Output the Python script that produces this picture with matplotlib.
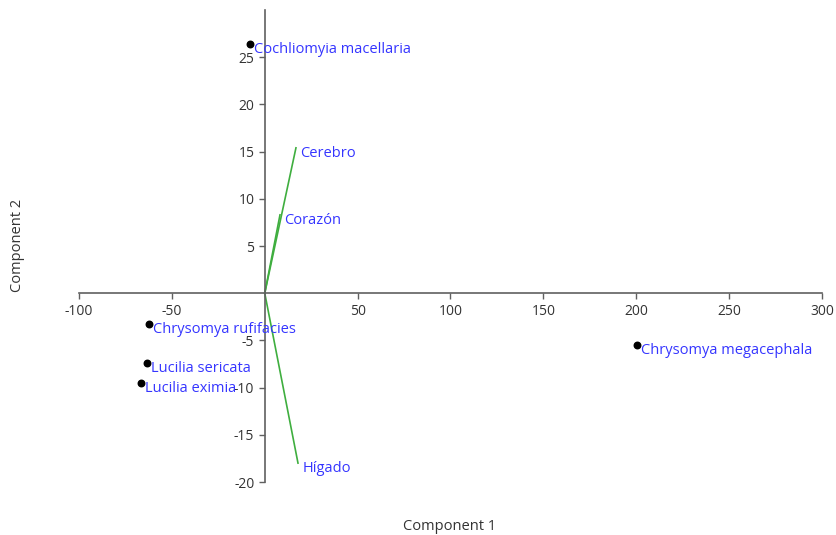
import matplotlib
matplotlib.use("Agg")
import matplotlib.pyplot as plt

species = ["Cochliomyia macellaria", "Chrysomya rufifacies", "Lucilia sericata",
           "Lucilia eximia", "Chrysomya megacephala"]
sp_x = [-7.9, -62.3, -63.4, -66.6, 200.4]
sp_y = [26.4, -3.3, -7.4, -9.5, -5.5]

variables = ["Cerebro", "Corazón", "Hígado"]
var_x = [16.8, 8.2, 17.9]
var_y = [15.4, 8.3, -18.0]

xticks = [-100, -50, 50, 100, 150, 200, 250, 300]
yticks = [-20, -15, -10, -5, 5, 10, 15, 20, 25]

plt.rcParams['font.family'] = ['Open Sans', 'DejaVu Sans']
plt.rcParams['axes.unicode_minus'] = False
fig = plt.figure(figsize=(8.37, 5.35), dpi=100)
ax = fig.add_axes([79/837, 1-482/535, (822-79)/837, (482-10)/535])

axc = '#606060'
for x, y in zip(var_x, var_y):
    ax.plot([0, x], [0, y], color='#3fae3f', lw=1.2, zorder=2)
ax.scatter(sp_x, sp_y, s=22, color='black', zorder=3)

tc = '#3535ff'
for n, x, y in zip(species, sp_x, sp_y):
    ax.annotate(n, (x, y), xytext=(3, -4), textcoords='offset points',
                color=tc, fontsize=10.5, va='center', ha='left')
for n, x, y in zip(variables, var_x, var_y):
    ax.annotate(n, (x, y), xytext=(3, -4), textcoords='offset points',
                color=tc, fontsize=10.5, va='center', ha='left')

ax.set_xlim(-100, 300)
ax.set_ylim(-20, 30)
for s in ['top', 'right']:
    ax.spines[s].set_visible(False)
ax.spines['left'].set_position(('data', 0))
ax.spines['bottom'].set_position(('data', 0))
ax.spines['left'].set_bounds(-20, 30)
ax.spines['bottom'].set_bounds(-100, 300)
for s in ['left', 'bottom']:
    ax.spines[s].set_color(axc)
    ax.spines[s].set_linewidth(1.2)
ax.set_xticks(xticks)
ax.set_yticks(yticks)
ax.tick_params(colors=axc, labelcolor='#333333', labelsize=10, length=4, width=1)
ax.set_facecolor('none')

fig.text(450/837, 1-527/535, "Component 1", ha='center', va='center', fontsize=10.5, color='#333333')
fig.text(18/837, 1-245/535, "Component 2", ha='center', va='center', rotation=90, fontsize=10.5, color='#333333')

fig.savefig("out.png", dpi=100)
